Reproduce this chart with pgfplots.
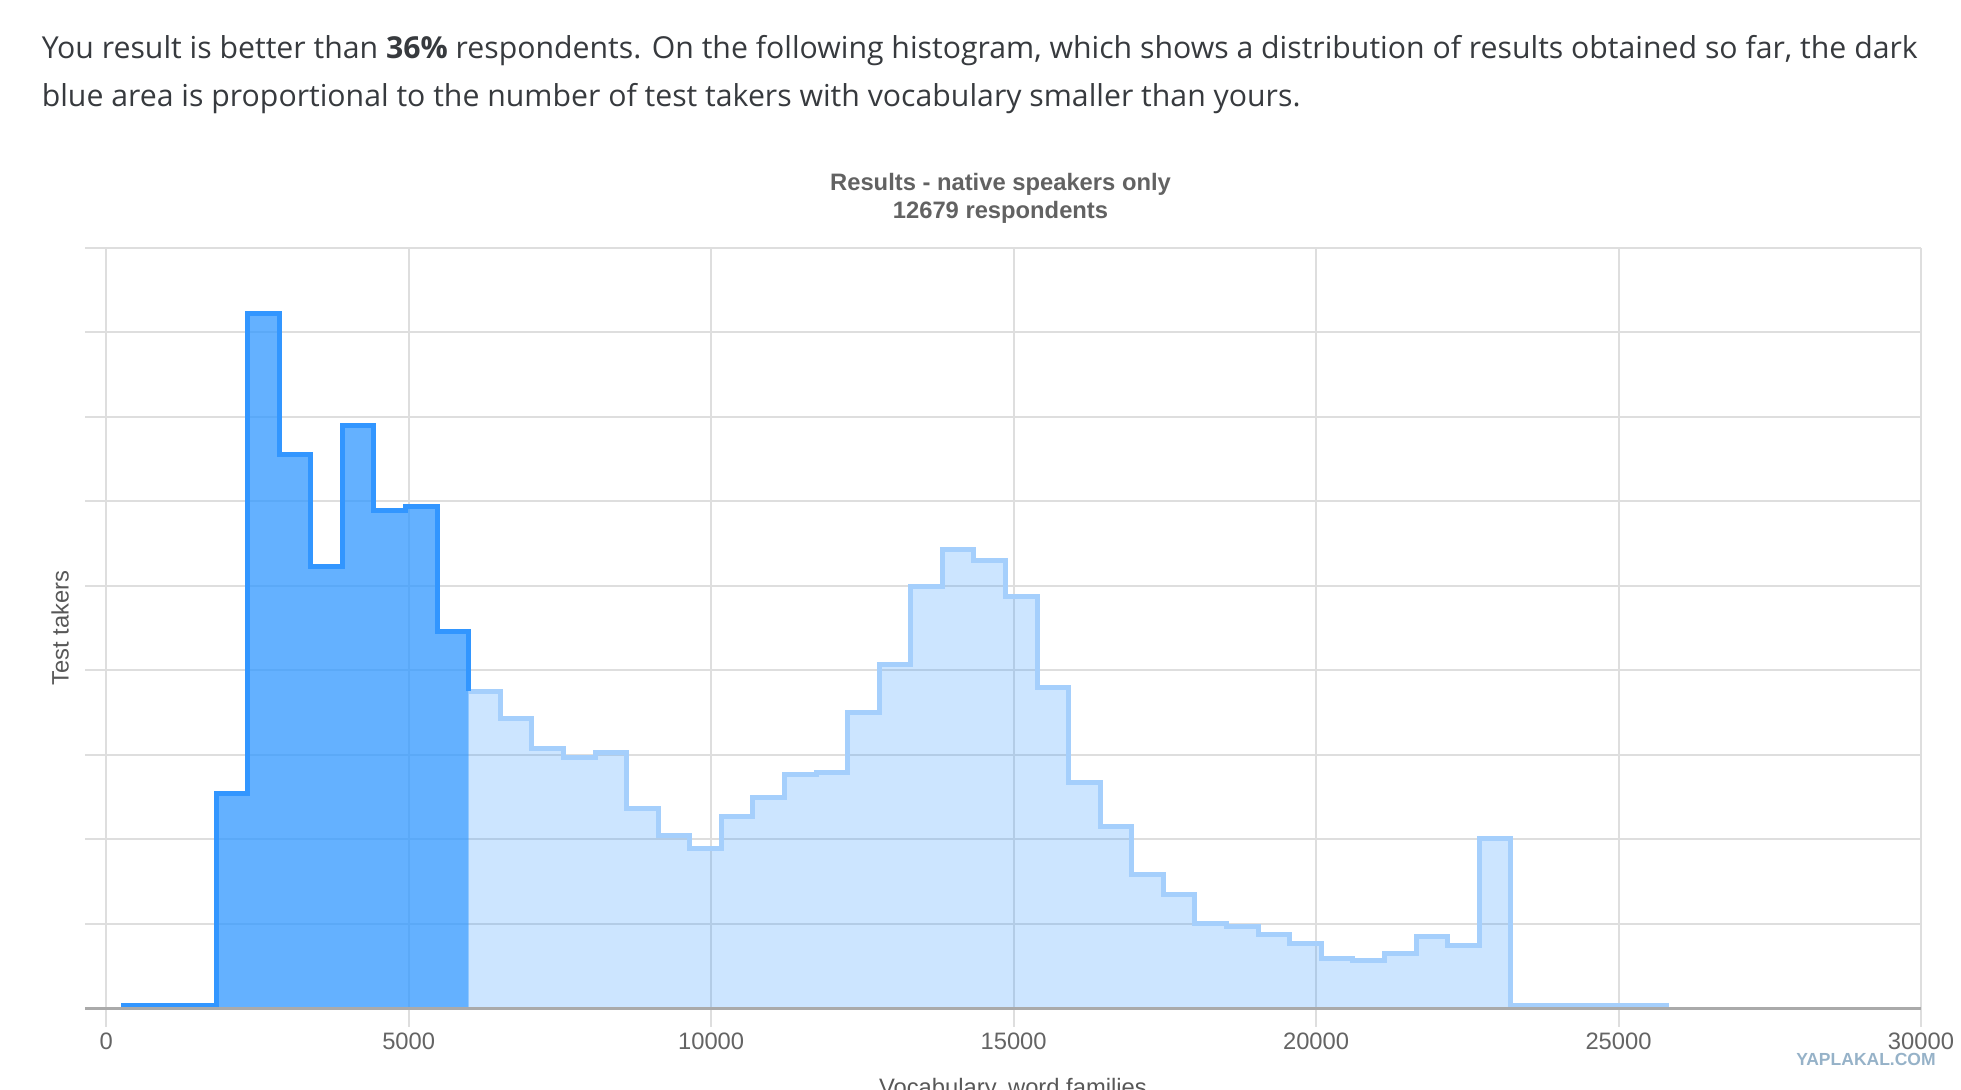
\documentclass[border=0pt]{standalone}
\usepackage{fontspec}
\setmainfont{Liberation Sans}
\newfontfamily\headfont{Open Sans}
\usepackage{pgfplots}
\usepackage{pgfplotstable}
\pgfplotsset{compat=1.18}

\definecolor{gblue}{HTML}{3399FF}
\definecolor{darklinec}{RGB}{50,150,255}
\definecolor{lightlinec}{RGB}{165,207,252}
\definecolor{gridc}{RGB}{222,222,222}
\definecolor{basec}{RGB}{170,170,170}
\definecolor{bodyc}{RGB}{55,58,62}
\definecolor{titlec}{RGB}{98,98,98}
\definecolor{tickc}{RGB}{100,100,100}
\definecolor{labc}{RGB}{88,88,88}
\definecolor{wmc}{RGB}{150,178,200}

\pgfplotstableread{
x y
250 0.03
772 0.03
1294 0.03
1816 2.54
2338 8.22
2860 6.55
3382 5.22
3904 6.89
4426 5.89
4948 5.94
5470 4.46
5992 3.75
}\darktab

\pgfplotstableread{
x y
5992 3.75
6514 3.43
7036 3.07
7558 2.97
8080 3.03
8602 2.36
9124 2.04
9646 1.89
10168 2.27
10690 2.49
11212 2.76
11734 2.79
12256 3.50
12778 4.07
13300 4.99
13822 5.43
14344 5.30
14866 4.87
15388 3.79
15910 2.67
16432 2.15
16954 1.58
17476 1.34
17998 1.00
18520 0.97
19042 0.87
19564 0.76
20086 0.59
20608 0.56
21130 0.64
21652 0.85
22174 0.74
22696 2.01
23218 0.03
23740 0.03
24262 0.03
24784 0.03
25306 0.03
25828 0.03
}\lighttab

\newlength\lineonew
\newsavebox\measurebox

\begin{document}
\sbox\measurebox{\headfont\fontsize{10}{12}\selectfont You result is better than \textbf{36\%} respondents. On the following histogram, which shows a distribution of results obtained so far, the dark}%
\setlength{\lineonew}{\wd\measurebox}%
\pgfmathsetmacro\headfs{7500/\lineonew}%
\begin{tikzpicture}
\node[anchor=base west, inner sep=0pt, text=bodyc, font=\headfont\fontsize{\headfs}{\headfs}\selectfont] at (16.5pt,412pt) {You result is better than \textbf{36\%} respondents. On the following histogram, which shows a distribution of results obtained so far, the dark};
\node[anchor=base west, inner sep=0pt, text=bodyc, font=\headfont\fontsize{\headfs}{\headfs}\selectfont] at (16.5pt,393pt) {blue area is proportional to the number of test takers with vocabulary smaller than yours.};

\node[anchor=base, inner sep=0pt, text=titlec, font=\bfseries\fontsize{9.5}{11}\selectfont] at (400pt,359.5pt) {Results - native speakers only};
\node[anchor=base, inner sep=0pt, text=titlec, font=\bfseries\fontsize{9.5}{11}\selectfont] at (400pt,348pt) {12679 respondents};

\begin{axis}[
  at={(34pt,32.5pt)}, anchor=south west,
  scale only axis, width=734pt, height=304pt,
  xmin=-350, xmax=30000, ymin=0, ymax=9,
  axis line style={draw=none},
  xtick={0,5000,...,30000},
  scaled x ticks=false,
  ytick={0,1,...,9}, yticklabels={},
  xmajorgrids, ymajorgrids,
  major grid style={draw=gridc, line width=0.8pt},
  tick align=outside, tick pos=left,
  xtick style={draw=gridc, line width=0.8pt},
  ytick style={draw=none},
  major tick length=7.5pt,
  /pgf/number format/assume math mode=true,
  /pgf/number format/1000 sep={},
  xticklabel style={anchor=base, yshift=-9pt, text=tickc, font=\fontsize{9.5}{11}\selectfont},
  xlabel={Vocabulary, word families},
  xlabel style={at={(axis description cs:0.5054,0)}, anchor=base, yshift=-35pt, text=labc, font=\fontsize{9.5}{11}\selectfont},
  ylabel={Test takers},
  ylabel style={at={(axis description cs:-0.0136,0.5)}, anchor=center, text=labc, font=\fontsize{9.5}{11}\selectfont},
  clip=false,
]
\addplot[const plot, draw=none, fill=gblue, fill opacity=0.25, forget plot] table {\lighttab} \closedcycle;
\addplot[const plot, draw=none, fill=gblue, fill opacity=0.76, forget plot] table {\darktab} \closedcycle;
\addplot[const plot, draw=lightlinec, line width=2pt, line join=miter, forget plot] table {\lighttab};
\addplot[const plot, draw=darklinec, line width=2pt, line join=miter, forget plot] table {\darktab};
\addplot[basec, line width=1.2pt, forget plot] coordinates {(-350,0) (30000,0)};
\end{axis}

\node[anchor=center, inner sep=0pt, text=wmc, font=\bfseries\fontsize{7}{8}\selectfont] at (746pt,12pt) {YAPLAKAL.COM};

\pgfresetboundingbox
\useasboundingbox (0,0) rectangle (784pt,435.5pt);
\end{tikzpicture}
\end{document}
